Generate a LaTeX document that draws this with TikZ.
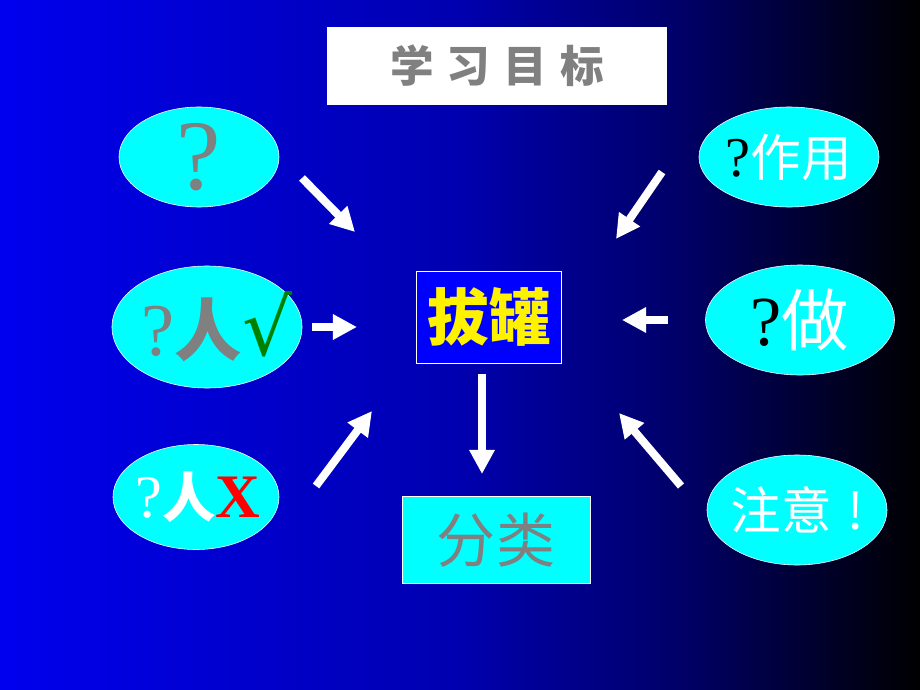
\documentclass[tikz,border=0pt]{standalone}
\usepackage{fontspec}
\setmainfont{Liberation Serif}
\newfontfamily\cjk{Noto Sans CJK SC}
\newfontfamily\symf{DejaVu Sans}
\usepackage{tikz}
\usetikzlibrary{shapes,arrows.meta,calc}

\definecolor{bgblue}{RGB}{0,0,238}
\definecolor{bgmid}{RGB}{0,0,175}
\definecolor{bgdark}{RGB}{0,0,100}
\definecolor{bubble}{RGB}{0,255,255}
\definecolor{txtgray}{RGB}{128,128,128}
\definecolor{tickgreen}{RGB}{0,128,0}
\pgfdeclarehorizontalshading{slidebg}{100bp}{color(0bp)=(bgblue); color(25bp)=(bgblue); color(50bp)=(bgmid); color(62.5bp)=(bgdark); color(75bp)=(black); color(100bp)=(black)}

\newcommand{\fs}[1]{\fontsize{#1}{#1}\selectfont}

\begin{document}
\begin{tikzpicture}[x=0.025cm, y=-0.025cm,
		oval/.style={ellipse, fill=bubble, draw=white, thin, inner sep=0},
		blk/.style={white, line width=0.2cm, -{Triangle[length=0.6cm,width=0.6cm]}}]
			\shade[shading=slidebg] (0,0) rectangle (920,690);
			\useasboundingbox (0,0) rectangle (920,690);

			% Boxes
			\node[fill=white, minimum width=8.5cm, minimum height=1.925cm] (goal) at (497,66)
				{\cjk\bfseries\fs{31}\color{txtgray}学\hspace{0.3em}习\hspace{0.3em}目\hspace{0.3em}标};
			\node[fill=blue, draw=white, thin, minimum width=3.625cm, minimum height=2.3cm] (cup) at (489,317)
				{\cjk\bfseries\fs{44}\color{yellow}拔罐};
			\node[fill=bubble, draw=white, thin, minimum width=4.7cm, minimum height=2.175cm] (kind) at (496,540)
				{\cjk\fs{42}\color{txtgray}分类};

			% Left ellipses
			\node[oval, minimum width=4cm, minimum height=2.5cm] (q1) at (199,157) {};
			\node (t1) at (q1) {\fs{71}\color{txtgray}?};
			\node[oval, minimum width=4.75cm, minimum height=3.05cm] (q2) at (207,327) {};
			\node (t2) at (217,327) {\fs{53}\color{txtgray}?\cjk\bfseries\fs{48}人\symf\mdseries\fs{56}\color{tickgreen}√};
			\node[oval, minimum width=4.15cm, minimum height=2.625cm] (q3) at (196,497) {};
			\node (t3) at (198,497) {\fs{43}\color{white}?\cjk\bfseries\fs{38}人\rmfamily\fs{44}\color{red}X};

			% Right ellipses
			\node[oval, minimum width=4.5cm, minimum height=2.5cm] (q4) at (789,157) {};
			\node (t4) at (q4) {\fs{40}?\cjk\fs{36}\color{white}作用};
			\node[oval, minimum width=4.725cm, minimum height=2.75cm] (q5) at (800,320) {};
			\node (t5) at (q5) {\fs{50}?\cjk\fs{48}\color{white}做};
			\node[oval, minimum width=4.5cm, minimum height=2.75cm] (q6) at (797,510) {};
			\node (t6) at (q6) {\cjk\fs{36}\color{white}注意\hspace{0.3em}!};

			% Arrows
			\coordinate (a1) at (302,178); \coordinate (b1) at (355,232);
			\coordinate (a2) at (312,327); \coordinate (b2) at (357,327);
			\coordinate (a3) at (316,486); \coordinate (b3) at (372,411);
			\coordinate (a4) at (662,172); \coordinate (b4) at (616,239);
			\coordinate (a5) at (668,320); \coordinate (b5) at (622,320);
			\coordinate (a6) at (681,486); \coordinate (b6) at (619,413);
			\coordinate (a7) at (482,374); \coordinate (b7) at (482,474);
			\foreach \i in {1,...,7}
				\draw[blk] (a\i) -- (b\i);
		\end{tikzpicture}
\end{document}
